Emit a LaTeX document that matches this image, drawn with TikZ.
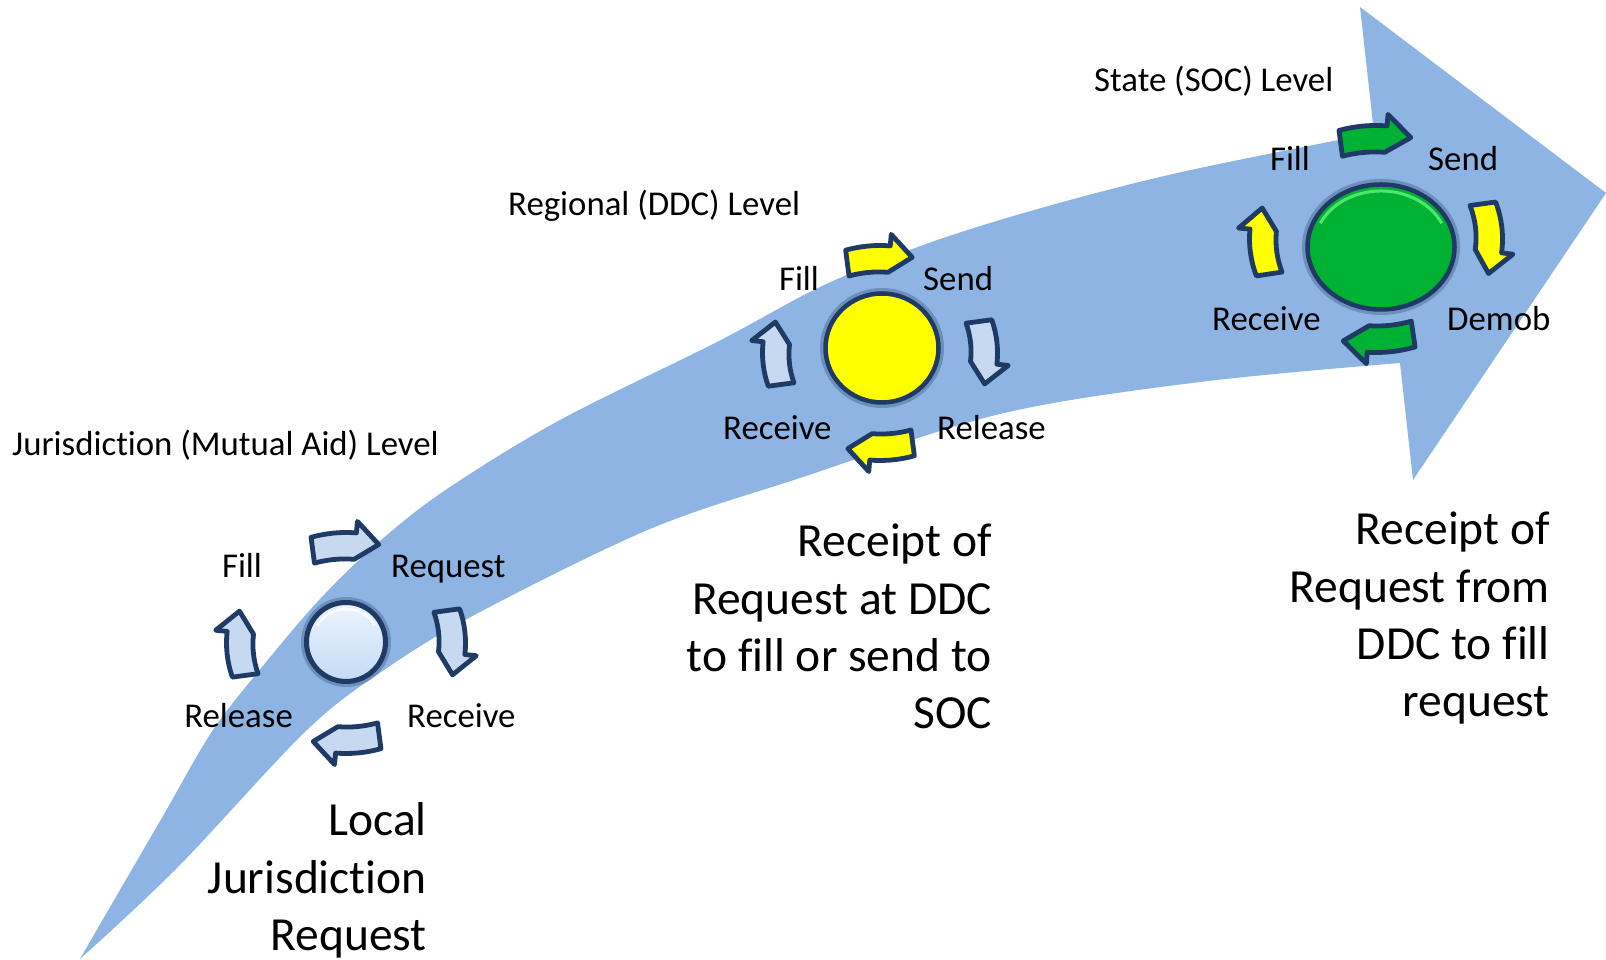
\documentclass[tikz,border=0pt]{standalone}
\usepackage{fontspec}
\setmainfont{Carlito}[Ligatures=NoCommon]
\definecolor{band}{RGB}{142,180,227}
\definecolor{navy}{RGB}{31,58,100}
\definecolor{lblue}{RGB}{198,217,241}
\definecolor{balltop}{RGB}{236,244,253}
\definecolor{ballbot}{RGB}{196,218,245}
\definecolor{yel}{RGB}{255,255,0}
\definecolor{grn}{RGB}{0,178,52}
\definecolor{grnlight}{RGB}{80,230,110}
\tikzset{
  cycarr/.style={draw=navy,line width=4.8pt,line join=round},
  lbl/.style={font=\fontsize{34.8}{40}\selectfont,inner sep=0pt,anchor=base west},
  big/.style={font=\fontsize{47.5}{57.3}\selectfont,inner sep=0pt,text width=420pt,align=flush right,anchor=base east},
}
% #1 cx, #2 cy, #3 rx, #4 ry, #5 start angle, #6 end angle (clockwise), #7 fill
\newcommand\cycarrow[7]{%
  \pgfmathsetmacro\aH{#6+12}%
  \pgfmathsetmacro\oxa{#3+7.5}\pgfmathsetmacro\oya{#4+7.5}%
  \pgfmathsetmacro\ixa{#3-7.5}\pgfmathsetmacro\iya{#4-7.5}%
  \pgfmathsetmacro\hxo{#3+19}\pgfmathsetmacro\hyo{#4+19}%
  \pgfmathsetmacro\hxi{#3-19}\pgfmathsetmacro\hyi{#4-19}%
  \filldraw[cycarr,fill=#7,shift={(#1,#2)}]
    (#5:\oxa pt and \oya pt) arc[start angle=#5,end angle=\aH,x radius=\oxa pt,y radius=\oya pt]
    -- (\aH:\hxo pt and \hyo pt) -- (#6:#3pt and #4pt) -- (\aH:\hxi pt and \hyi pt)
    arc[start angle=\aH,end angle=#5,x radius=\ixa pt,y radius=\iya pt] -- cycle;}
\begin{document}
\begin{tikzpicture}[x=1pt,y=1pt]
\fill[white] (0,0) rectangle (1606,960);
\useasboundingbox (0,0) rectangle (1606,960);
% big curved arrow
\fill[band] plot[smooth,tension=0.55] coordinates {(80,1) (113,58) (163,144) (213,230) (267,299) (320,361) (380,419) (447,471) (560,540) (717,618) (820,673) (915,712) (1000,740) (1100,768) (1200,792) (1374,827)}
  -- (1360,953) -- (1606,767) -- (1413,480) -- (1400,597)
  -- plot[smooth,tension=0.55] coordinates {(1400,597) (1200,578) (1000,546) (800,482) (650,431) (480,348) (387,292) (307,230) (177,92) (80,1)} -- cycle;

% ---- left cycle (Jurisdiction)
\fill[navy,opacity=0.3] (346,318) circle[radius=45pt];
\shadedraw[draw=navy,line width=5pt,top color=balltop,bottom color=ballbot] (346,318) circle[radius=39.5pt];
\draw[white,line width=2.5pt,opacity=0.8] ([shift={(346,318)}]150:33pt) arc[start angle=150,end angle=30,radius=33pt];
\cycarrow{346}{317}{112}{103}{107}{73}{lblue}
\cycarrow{346}{317}{112}{103}{18}{-18}{lblue}
\cycarrow{346}{317}{112}{103}{-73}{-107}{lblue}
\cycarrow{346}{317}{112}{103}{198}{162}{lblue}

% ---- middle cycle (Regional)
\fill[navy,opacity=0.3] (882,612) ellipse[x radius=62pt,y radius=60pt];
\filldraw[draw=navy,line width=4.5pt,fill=yel] (882,612) ellipse[x radius=56.5pt,y radius=54.5pt];
\cycarrow{880}{607}{110}{100}{107}{73}{yel}
\cycarrow{880}{607}{110}{100}{18}{-18}{lblue}
\cycarrow{880}{607}{110}{100}{-73}{-107}{yel}
\cycarrow{880}{607}{110}{100}{198}{162}{lblue}

% ---- right cycle (State)
\fill[navy,opacity=0.3] (1381,713) ellipse[x radius=79pt,y radius=68pt];
\filldraw[draw=navy,line width=4.5pt,fill=grn] (1381,713) ellipse[x radius=73.5pt,y radius=62.5pt];
\draw[grnlight,line width=3pt] ([shift={(1381,713)}]155:67pt and 56pt) arc[start angle=155,end angle=25,x radius=67pt,y radius=56pt];
\cycarrow{1376}{721}{119}{106}{107}{73}{grn}
\cycarrow{1376}{721}{119}{106}{19}{-19}{yel}
\cycarrow{1376}{721}{119}{106}{-72}{-106}{grn}
\cycarrow{1376}{721}{119}{106}{199}{163}{yel}

% ---- level titles
\node[lbl] (lvlJ) at (12,504) {Jurisdiction (Mutual Aid) Level};
\node[lbl] (lvlR) at (508,744) {Regional (DDC) Level};
\node[lbl] (lvlS) at (1094,868) {State (SOC) Level};

% ---- left cycle labels
\node[lbl,anchor=base] (jFill) at (242,382) {Fill};
\node[lbl] (jReq) at (391,382) {Request};
\node[lbl,anchor=base east] (jRel) at (293,232) {Release};
\node[lbl] (jRec) at (407,232) {Receive};

% ---- middle cycle labels
\node[lbl,anchor=base] (rFill) at (799,669) {Fill};
\node[lbl] (rSend) at (923,669) {Send};
\node[lbl] (rRec) at (723,520) {Receive};
\node[lbl] (rRel) at (937,520) {Release};

% ---- right cycle labels
\node[lbl,anchor=base] (sFill) at (1290,789) {Fill};
\node[lbl] (sSend) at (1428,789) {Send};
\node[lbl] (sRec) at (1212,629) {Receive};
\node[lbl] (sDem) at (1447,629) {Demob};

% ---- big descriptions
\node[big] (dLocal) at (427,124) {Local\\Jurisdiction\\Request};
\node[big] (dDDC) at (992,403) {Receipt of\\Request at DDC\\to fill or send to\\SOC};
\node[big] (dSOC) at (1550,415) {Receipt of\\Request from\\DDC to fill\\request};
\end{tikzpicture}
\end{document}
